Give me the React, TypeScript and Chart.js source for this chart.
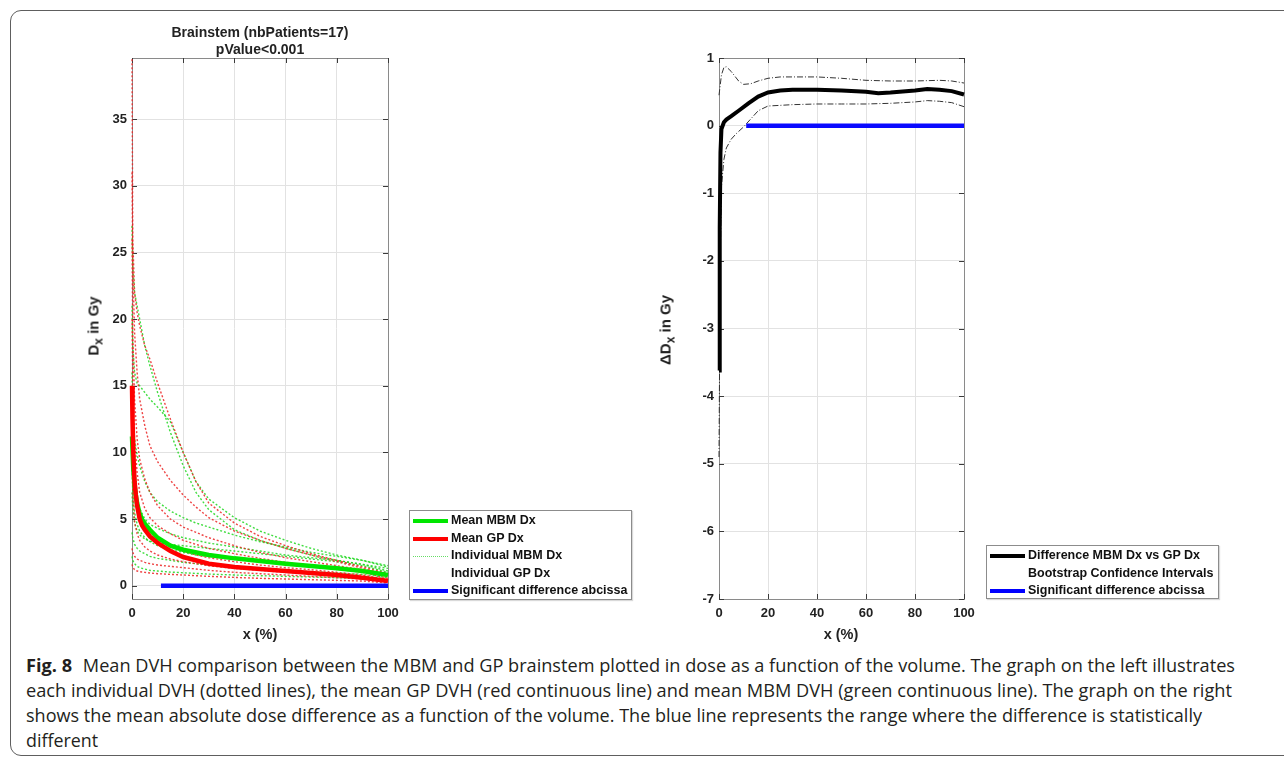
import React, { useEffect, useLayoutEffect, useRef } from 'react';
import { Chart, registerables } from 'chart.js';

Chart.register(...registerables);

// ---------- tick labels / ranges ----------
const X_TICKS = [0, 20, 40, 60, 80, 100];
const LEFT_Y_TICKS = [0, 5, 10, 15, 20, 25, 30, 35];
const RIGHT_Y_TICKS = [-7, -6, -5, -4, -3, -2, -1, 0, 1];
const LEFT_Y_MIN = -1;
const LEFT_Y_MAX = 39.6;
const RIGHT_Y_MIN = -7;
const RIGHT_Y_MAX = 1;

// ---------- left chart: individual DVHs (dose in Gy vs volume %) ----------
const IND_X = [0, 0.3, 1, 2, 3, 5, 7, 10, 15, 20, 25, 30, 40, 50, 60, 70, 80, 90, 100];

const MBM_IND_1 = [27, 24, 22, 21, 20, 18, 16.5, 14.5, 11.5, 9, 7, 5.7, 4.2, 3.4, 2.8, 2.3, 1.9, 1.6, 1.3];
const MBM_IND_2 = [21, 18, 16, 15.2, 15, 14.5, 14, 13.4, 12.3, 10, 7.8, 6.5, 5.1, 4.1, 3.4, 2.8, 2.3, 1.9, 1.5];
const MBM_IND_3 = [16, 13, 11, 9.8, 9, 7.8, 7, 6.3, 5.6, 5.1, 4.7, 4.4, 3.8, 3.3, 2.9, 2.5, 2.2, 1.9, 1.4];
const MBM_IND_4 = [12, 10, 8, 6.6, 5.8, 5, 4.6, 4.3, 3.9, 3.6, 3.4, 3.2, 2.9, 2.6, 2.3, 2.1, 1.9, 1.6, 1.1];
const MBM_IND_5 = [9, 7, 5.5, 4.6, 4.1, 3.6, 3.3, 3.0, 2.7, 2.5, 2.3, 2.2, 2.0, 1.8, 1.6, 1.5, 1.3, 1.1, 0.8];
const MBM_IND_6 = [4, 3.6, 3.1, 2.8, 2.6, 2.4, 2.2, 2.05, 1.9, 1.75, 1.65, 1.55, 1.4, 1.25, 1.15, 1.05, 0.95, 0.85, 0.6];
const MBM_IND_7 = [2.2, 1.9, 1.65, 1.45, 1.35, 1.25, 1.15, 1.1, 1.02, 0.97, 0.92, 0.87, 0.8, 0.75, 0.7, 0.65, 0.6, 0.55, 0.45];
const MBM_IND_8 = [7, 5.8, 4.7, 4.1, 3.8, 3.5, 3.35, 3.2, 3.1, 3.0, 2.9, 2.8, 2.6, 2.4, 2.2, 2.0, 1.8, 1.5, 1.0];

const GP_IND_1 = [39.5, 26, 22, 20.5, 19.5, 18, 17, 15.2, 12.5, 10, 7.8, 6.2, 4.7, 3.7, 3.0, 2.4, 1.9, 1.4, 0.9];
const GP_IND_2 = [31, 24, 19, 16, 14, 12, 10.5, 9.3, 7.9, 6.8, 5.9, 5.1, 4.1, 3.4, 2.8, 2.3, 1.8, 1.3, 0.8];
const GP_IND_3 = [26, 19, 14, 11, 9.5, 8, 7, 6, 5, 4.4, 4.0, 3.6, 3.0, 2.5, 2.1, 1.8, 1.5, 1.2, 0.7];
const GP_IND_4 = [20, 15, 11, 8.5, 7, 5.8, 5.1, 4.5, 3.9, 3.4, 3.1, 2.8, 2.4, 2.05, 1.75, 1.5, 1.25, 1.0, 0.55];
const GP_IND_5 = [15, 11, 7.5, 5.8, 5, 4.3, 3.8, 3.4, 2.9, 2.6, 2.3, 2.1, 1.8, 1.55, 1.35, 1.2, 1.0, 0.8, 0.45];
const GP_IND_6 = [10, 7, 4.8, 3.9, 3.4, 2.9, 2.6, 2.3, 2.0, 1.8, 1.65, 1.5, 1.3, 1.15, 1.0, 0.9, 0.8, 0.65, 0.4];
const GP_IND_7 = [2.8, 2.5, 2.2, 2.0, 1.9, 1.75, 1.65, 1.55, 1.45, 1.35, 1.25, 1.15, 1.0, 0.9, 0.8, 0.7, 0.6, 0.5, 0.3];
const GP_IND_8 = [1.6, 1.4, 1.2, 1.1, 1.05, 1.0, 0.95, 0.9, 0.85, 0.8, 0.75, 0.7, 0.62, 0.55, 0.5, 0.45, 0.4, 0.35, 0.2];

const MBM_INDIVIDUALS = [MBM_IND_1, MBM_IND_2, MBM_IND_3, MBM_IND_4, MBM_IND_5, MBM_IND_6, MBM_IND_7, MBM_IND_8];
const GP_INDIVIDUALS = [GP_IND_1, GP_IND_2, GP_IND_3, GP_IND_4, GP_IND_5, GP_IND_6, GP_IND_7, GP_IND_8];

// ---------- left chart: means ----------
const MEAN_X = [0, 0.2, 0.5, 1, 1.5, 2, 3, 4, 5, 7, 10, 15, 20, 30, 40, 50, 60, 70, 80, 90, 100];
const MEAN_MBM = [11.2, 10.2, 8.8, 7.6, 6.8, 6.2, 5.4, 4.95, 4.65, 4.2, 3.6, 3.0, 2.7, 2.3, 2.05, 1.85, 1.65, 1.48, 1.3, 1.1, 0.8];
const MEAN_GP = [15, 12.5, 10, 7.8, 6.8, 6.0, 5.0, 4.5, 4.2, 3.7, 3.2, 2.6, 2.15, 1.65, 1.4, 1.25, 1.1, 0.95, 0.8, 0.6, 0.35];

const SIG_LEFT_X = [11.3, 100];
const SIG_LEFT_Y = [0, 0];

// ---------- right chart ----------
const DIFF_X = [0, 0.3, 0.6, 1, 2, 3, 5, 8, 12, 16, 20, 25, 30, 40, 50, 60, 65, 70, 80, 85, 90, 95, 100];
const DIFF_Y = [-3.62, -1.5, -0.4, -0.05, 0.05, 0.09, 0.14, 0.22, 0.33, 0.43, 0.49, 0.52, 0.53, 0.53, 0.52, 0.5, 0.48, 0.49, 0.52, 0.54, 0.53, 0.51, 0.46];

const CI_UP_X = [0, 1, 2, 3, 5, 8, 10, 13, 16, 20, 25, 30, 40, 50, 60, 70, 80, 90, 95, 100];
const CI_UP_Y = [0.45, 0.75, 0.86, 0.87, 0.8, 0.66, 0.61, 0.62, 0.66, 0.7, 0.72, 0.72, 0.72, 0.7, 0.67, 0.66, 0.66, 0.67, 0.66, 0.63];

const CI_LO_X = [0, 0.5, 1, 2, 3, 5, 7, 10, 13, 16, 20, 25, 30, 40, 50, 60, 70, 80, 85, 90, 95, 100];
const CI_LO_Y = [-4.9, -2.0, -0.9, -0.5, -0.33, -0.2, -0.12, -0.02, 0.1, 0.22, 0.29, 0.3, 0.31, 0.32, 0.32, 0.32, 0.33, 0.35, 0.37, 0.36, 0.34, 0.28];

const SIG_RIGHT_X = [11.1, 100];
const SIG_RIGHT_Y = [0, 0];

// ---------- text ----------
const LEFT_TITLE = ['Brainstem (nbPatients=17)', 'pValue<0.001'];
const LEFT_LEGEND = [
  { label: 'Mean MBM Dx', kind: 'solid', color: '#00e600' },
  { label: 'Mean GP Dx', kind: 'solid', color: '#ff0000' },
  { label: 'Individual MBM Dx', kind: 'dotted', color: '#66dd66' },
  { label: 'Individual GP Dx', kind: 'none', color: '#ffffff' },
  { label: 'Significant difference abcissa', kind: 'solid', color: '#0000ff' },
];
const RIGHT_LEGEND = [
  { label: 'Difference MBM Dx vs GP Dx', kind: 'solid', color: '#000000' },
  { label: 'Bootstrap Confidence Intervals', kind: 'none', color: '#ffffff' },
  { label: 'Significant difference abcissa', kind: 'solid', color: '#0000ff' },
];
const CAPTION_LINES = [
  'Mean DVH comparison between the MBM and GP brainstem plotted in dose as a function of the volume. The graph on the left illustrates',
  'each individual DVH (dotted lines), the mean GP DVH (red continuous line) and mean MBM DVH (green continuous line). The graph on the right',
  'shows the mean absolute dose difference as a function of the volume. The blue line represents the range where the difference is statistically',
  'different',
];
const CAPTION_WIDTHS = [1209, 1206, 1176, 72];

const AX_FONT = "'Liberation Sans', Arial, Helvetica, sans-serif";

const pts = (xs: number[], ys: number[]) => xs.map((x, i) => ({ x, y: ys[i] }));

const matlabAxes = {
  id: 'matlabAxes',
  beforeDatasetsDraw(chart: any) {
    const { ctx, chartArea: a, scales } = chart;
    ctx.save();
    ctx.lineWidth = 1;
    ctx.strokeStyle = '#8a8a8a';
    ctx.strokeRect(Math.round(a.left) + 0.5, Math.round(a.top) + 0.5, Math.round(a.right - a.left), Math.round(a.bottom - a.top));
    ctx.strokeStyle = '#3a3a3a';
    const tl = 5;
    ctx.beginPath();
    scales.x.ticks.forEach((t: any) => {
      const p = Math.round(scales.x.getPixelForValue(t.value)) + 0.5;
      ctx.moveTo(p, a.bottom); ctx.lineTo(p, a.bottom - tl);
      ctx.moveTo(p, a.top); ctx.lineTo(p, a.top + tl);
    });
    scales.y.ticks.forEach((t: any) => {
      const p = Math.round(scales.y.getPixelForValue(t.value)) + 0.5;
      ctx.moveTo(a.left, p); ctx.lineTo(a.left + tl, p);
      ctx.moveTo(a.right, p); ctx.lineTo(a.right - tl, p);
    });
    ctx.stroke();
    ctx.restore();
  },
};

function makeScales(yMin: number, yMax: number, yTicks: number[]) {
  const tickFont = { family: AX_FONT, size: 13, weight: 'bold' as const };
  return {
    x: {
      type: 'linear' as const,
      min: 0,
      max: 100,
      afterBuildTicks: (s: any) => { s.ticks = X_TICKS.map((v) => ({ value: v })); },
      afterFit: (s: any) => { s.height = 30; },
      grid: { color: '#e2e2e2', drawTicks: false, lineWidth: 1 },
      border: { display: false },
      ticks: { padding: 7, color: '#222', font: tickFont, maxRotation: 0, autoSkip: false, callback: (v: any) => String(v) },
    },
    y: {
      type: 'linear' as const,
      min: yMin,
      max: yMax,
      afterBuildTicks: (s: any) => { s.ticks = yTicks.map((v) => ({ value: v })); },
      afterFit: (s: any) => { s.width = 40; },
      grid: { color: '#e2e2e2', drawTicks: false, lineWidth: 1 },
      border: { display: false },
      ticks: { padding: 5, color: '#222', font: tickFont, autoSkip: false, callback: (v: any) => String(v) },
    },
  };
}

function line(data: any[], color: string, width: number, order: number, dash: number[] = []) {
  return {
    data,
    showLine: true,
    borderColor: color,
    backgroundColor: color,
    borderWidth: width,
    borderDash: dash,
    pointRadius: 0,
    pointHoverRadius: 0,
    fill: false,
    tension: 0,
    clip: false as const,
    order,
  };
}

function ChartCanvas({ left, top, width, height, config }: any) {
  const ref = useRef<HTMLCanvasElement | null>(null);
  useEffect(() => {
    if (!ref.current) return;
    const chart = new Chart(ref.current, config);
    return () => chart.destroy();
  }, []);
  return (
    <canvas
      ref={ref}
      width={width}
      height={height}
      style={{ position: 'absolute', left, top, width, height }}
    />
  );
}

const commonOptions = {
  animation: false as const,
  responsive: false,
  maintainAspectRatio: false,
  events: [] as any[],
  plugins: { legend: { display: false }, tooltip: { enabled: false }, title: { display: false } },
};

const leftConfig = {
  type: 'scatter' as const,
  data: {
    datasets: [
      line(pts(SIG_LEFT_X, SIG_LEFT_Y), '#0a0aff', 4.5, 0),
      line(pts(MEAN_X, MEAN_GP), '#ff0000', 4.5, 1),
      line(pts(MEAN_X, MEAN_MBM), '#00e600', 4.5, 2),
      ...GP_INDIVIDUALS.map((ys) => line(pts(IND_X, ys), 'rgba(235,35,35,0.85)', 1.4, 3, [2, 2])),
      ...MBM_INDIVIDUALS.map((ys) => line(pts(IND_X, ys), 'rgba(30,215,30,0.85)', 1.4, 4, [2, 2])),
    ],
  },
  options: {
    ...commonOptions,
    layout: { padding: { left: 92, top: 58, right: 640 - 388, bottom: 650 - 599 - 30 } },
    scales: makeScales(LEFT_Y_MIN, LEFT_Y_MAX, LEFT_Y_TICKS),
  },
  plugins: [matlabAxes],
};

const rightConfig = {
  type: 'scatter' as const,
  data: {
    datasets: [
      line(pts(SIG_RIGHT_X, SIG_RIGHT_Y), '#0a0aff', 4.5, 0),
      line(pts(DIFF_X, DIFF_Y), '#000000', 4, 1),
      line(pts(CI_UP_X, CI_UP_Y), '#333333', 1, 2, [6, 2, 1, 2]),
      line(pts(CI_LO_X, CI_LO_Y), '#333333', 1, 2, [6, 2, 1, 2]),
    ],
  },
  options: {
    ...commonOptions,
    layout: { padding: { left: 79 - 40, top: 58, right: 644 - 324, bottom: 650 - 599 - 30 } },
    scales: makeScales(RIGHT_Y_MIN, RIGHT_Y_MAX, RIGHT_Y_TICKS),
  },
  plugins: [matlabAxes],
};

function Legend({ left, top, width, height, entries, rowGap }: any) {
  return (
    <div
      style={{
        position: 'absolute', left, top, width, height, boxSizing: 'border-box',
        border: '1px solid #8c8c8c', background: '#fff', boxShadow: '1px 1px 1px rgba(0,0,0,0.15)',
      }}
    >
      {entries.map((e: any, i: number) => {
        const cy = 10 + i * rowGap;
        return (
          <React.Fragment key={i}>
            {e.kind !== 'none' && (
              <div
                style={{
                  position: 'absolute', left: 3, width: 35, top: cy - (e.kind === 'solid' ? 2 : 0.5),
                  borderTop: e.kind === 'solid' ? `4px solid ${e.color}` : `1px dotted ${e.color}`,
                }}
              />
            )}
            <div
              style={{
                position: 'absolute', left: 41, top: cy - 8, height: 16, lineHeight: '16px',
                font: `bold 12.5px ${AX_FONT}`, color: '#111', whiteSpace: 'nowrap',
              }}
            >
              {e.label}
            </div>
          </React.Fragment>
        );
      })}
    </div>
  );
}

function RotLabel({ cx, cy, delta }: any) {
  return (
    <div
      style={{
        position: 'absolute', left: cx, top: cy, transform: 'translate(-50%, -50%) rotate(-90deg)',
        font: `bold 15px ${AX_FONT}`, color: '#222', whiteSpace: 'nowrap',
      }}
    >
      {delta ? '\u0394' : ''}D<sub style={{ fontSize: '12px', verticalAlign: '-4px' }}>x</sub> in Gy
    </div>
  );
}

function CenterText({ cx, cy, text, size }: any) {
  return (
    <div
      style={{
        position: 'absolute', left: cx, top: cy, transform: 'translate(-50%, -50%)',
        font: `bold ${size}px ${AX_FONT}`, color: '#222', whiteSpace: 'nowrap',
      }}
    >
      {text}
    </div>
  );
}

export default function App() {
  const capRefs = useRef<(HTMLDivElement | null)[]>([]);

  useLayoutEffect(() => {
    document.body.style.margin = '0';
    document.body.style.overflow = 'hidden';
    capRefs.current.forEach((el, i) => {
      if (!el) return;
      el.style.transform = 'none';
      const w = el.getBoundingClientRect().width;
      if (w > 0) el.style.transform = `scaleX(${CAPTION_WIDTHS[i] / w})`;
    });
  }, []);

  return (
    <div style={{ position: 'relative', width: 1284, height: 759, overflow: 'hidden', background: '#fff' }}>
      <div
        style={{
          position: 'absolute', left: 10, top: 10, width: 1320, height: 746, boxSizing: 'border-box',
          border: '1.5px solid #5e5e5e', borderRadius: 11,
        }}
      />
      <ChartCanvas left={0} top={0} width={640} height={650} config={leftConfig} />
      <ChartCanvas left={640} top={0} width={644} height={650} config={rightConfig} />

      <CenterText cx={260} cy={32} text={LEFT_TITLE[0]} size={14} />
      <CenterText cx={260} cy={49} text={LEFT_TITLE[1]} size={14} />

      <RotLabel cx={95} cy={326} />
      <RotLabel cx={667} cy={330} delta />

      <CenterText cx={260} cy={634} text="x (%)" size={14.5} />
      <CenterText cx={841} cy={634} text="x (%)" size={14.5} />

      <Legend left={409} top={510} width={223} height={90} entries={LEFT_LEGEND} rowGap={17.5} />
      <Legend left={986} top={545} width={233} height={54} entries={RIGHT_LEGEND} rowGap={17.5} />

      {CAPTION_LINES.map((t, i) => (
        <div
          key={i}
          ref={(el) => { capRefs.current[i] = el; }}
          style={{
            position: 'absolute', left: 26, top: 665 + i * 25 - 13, height: 26, lineHeight: '26px',
            font: "18.5px 'Open Sans', 'Noto Sans', sans-serif", color: '#231f20', whiteSpace: 'nowrap',
            transformOrigin: 'left center',
          }}
        >
          {i === 0 && <b style={{ fontWeight: 700, marginRight: 11 }}>Fig. 8</b>}
          {t}
        </div>
      ))}
    </div>
  );
}
